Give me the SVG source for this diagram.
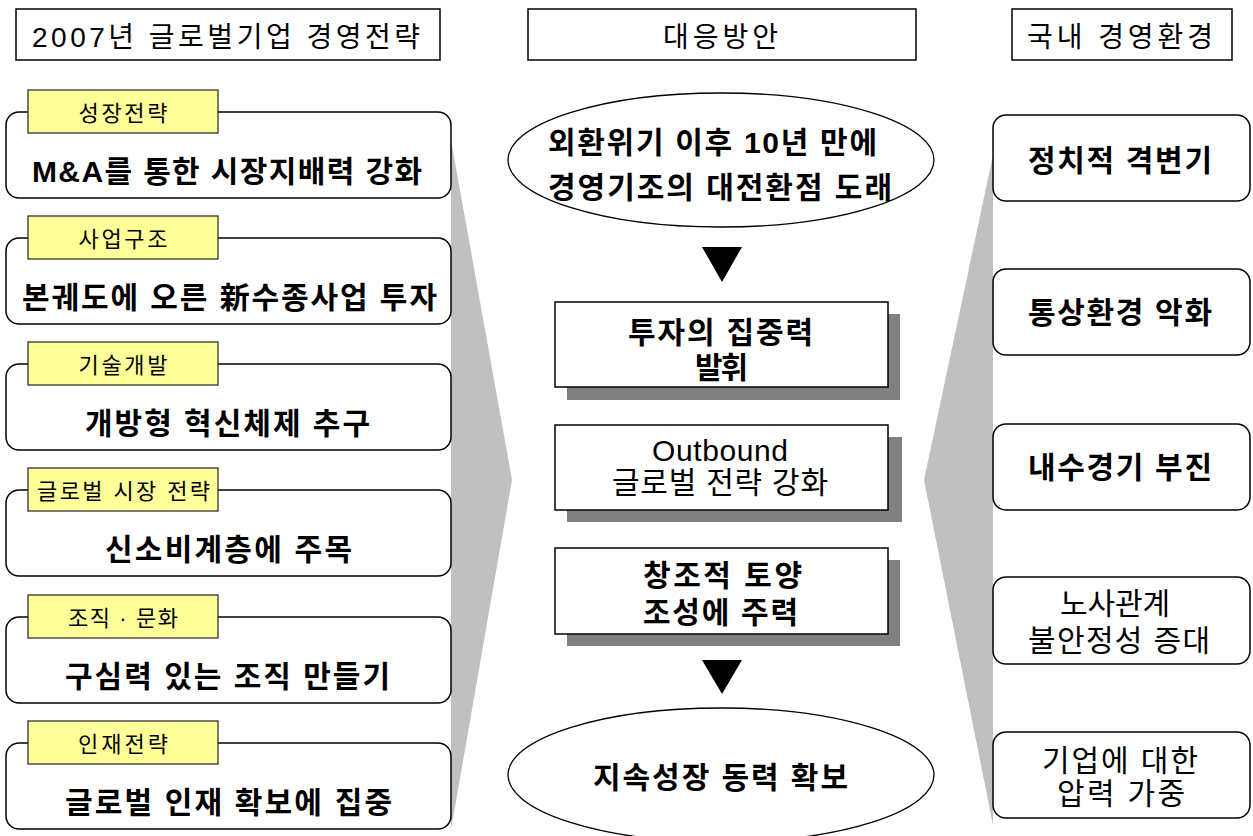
<svg xmlns="http://www.w3.org/2000/svg" width="1253" height="836" viewBox="0 0 1253 836">
<style>
text{font-family:"Liberation Sans","Noto Sans CJK KR",sans-serif;fill:#000;text-anchor:middle}
.h{font-size:28px}
.lb{font-size:22px}
.b{font-size:30px;font-weight:bold}
.r{font-size:30px}
.hdr{fill:#fff;stroke:#000;stroke-width:1.5}
.rb{fill:#fff;stroke:#000;stroke-width:1.5}
.tag{fill:#ffff99;stroke:#222;stroke-width:1.2}
.sq{fill:#fff;stroke:#000;stroke-width:1.5}
.sh{fill:#808080}
.wedge{fill:#c0c0c0}
.el{fill:#fff;stroke:#000;stroke-width:1.3}
</style>

<g id="connectors">
  <polygon class="wedge" points="451,140 512,480 451,830"/>
  <polygon class="wedge" points="993,155 924,480 993,825"/>
  <polygon points="702,247 742,247 722,282" fill="#000"/>
  <polygon points="702,660 742,660 722,694" fill="#000"/>
</g>

<g id="header-left"><rect class="hdr" x="16" y="9" width="424" height="51"/><text class="h" x="226" y="46.5" textLength="388">2007년 글로벌기업 경영전략</text></g>
<g id="header-center"><rect class="hdr" x="528" y="9" width="388" height="51"/><text class="h" x="720.5" y="46.5" textLength="115">대응방안</text></g>
<g id="header-right"><rect class="hdr" x="1012" y="9" width="220" height="51"/><text class="h" x="1120" y="46.5" textLength="186">국내 경영환경</text></g>

<g id="left1"><rect class="rb" x="6" y="112" width="445" height="86" rx="13"/><rect class="tag" x="28" y="90" width="190" height="43"/><text class="lb" x="123" y="121" textLength="89">성장전략</text><text class="b" x="227" y="182" textLength="390">M&amp;A를 통한 시장지배력 강화</text></g>
<g id="left2"><rect class="rb" x="6" y="238" width="445" height="86" rx="13"/><rect class="tag" x="28" y="216" width="190" height="43"/><text class="lb" x="123" y="247" textLength="89">사업구조</text><text class="b" x="229.5" y="308" textLength="415">본궤도에 오른 新수종사업 투자</text></g>
<g id="left3"><rect class="rb" x="6" y="364" width="445" height="86" rx="13"/><rect class="tag" x="28" y="342" width="190" height="43"/><text class="lb" x="123" y="373" textLength="89">기술개발</text><text class="b" x="227.5" y="434" textLength="285">개방형 혁신체제 추구</text></g>
<g id="left4"><rect class="rb" x="6" y="490" width="445" height="86" rx="13"/><rect class="tag" x="28" y="468" width="190" height="43"/><text class="lb" x="123.5" y="499" textLength="173">글로벌 시장 전략</text><text class="b" x="228.5" y="560" textLength="247">신소비계층에 주목</text></g>
<g id="left5"><rect class="rb" x="6" y="617" width="445" height="86" rx="13"/><rect class="tag" x="28" y="595" width="190" height="43"/><text class="lb" x="123" y="626" textLength="110">조직 · 문화</text><text class="b" x="227.5" y="687" textLength="325">구심력 있는 조직 만들기</text></g>
<g id="left6"><rect class="rb" x="6" y="743" width="445" height="86" rx="13"/><rect class="tag" x="28" y="721" width="190" height="43"/><text class="lb" x="123" y="752" textLength="90">인재전략</text><text class="b" x="228.5" y="813" textLength="327">글로벌 인재 확보에 집중</text></g>

<g id="ellipse-top"><ellipse class="el" cx="721" cy="160" rx="213" ry="67"/><text class="b" x="712.5" y="153" textLength="329">외환위기 이후 10년 만에</text><text class="b" x="720" y="198" textLength="344">경영기조의 대전환점 도래</text></g>

<g id="center1"><rect class="sh" x="567" y="314" width="333" height="86"/><rect class="sq" x="555" y="302" width="333" height="85"/><text class="b" x="720.5" y="343" textLength="185">투자의 집중력</text><text class="b" x="721.5" y="378" textLength="53">발휘</text></g>
<g id="center2"><rect class="sh" x="567" y="437" width="335" height="85"/><rect class="sq" x="555" y="425" width="333" height="85"/><text class="r" x="720" y="461" textLength="136">Outbound</text><text class="r" x="720" y="493" textLength="216">글로벌 전략 강화</text></g>
<g id="center3"><rect class="sh" x="567" y="560" width="333" height="86"/><rect class="sq" x="555" y="548" width="333" height="86"/><text class="b" x="722.5" y="586" textLength="159">창조적 토양</text><text class="b" x="720.5" y="623" textLength="155">조성에 주력</text></g>

<g id="ellipse-bottom"><ellipse class="el" cx="721" cy="775" rx="213" ry="67"/><text class="b" x="720.5" y="788" textLength="255">지속성장 동력 확보</text></g>

<g id="right1"><rect class="rb" x="993" y="115" width="257" height="86" rx="13"/><text class="b" x="1120" y="171" textLength="184">정치적 격변기</text></g>
<g id="right2"><rect class="rb" x="993" y="269" width="257" height="86" rx="13"/><text class="b" x="1120" y="323" textLength="184">통상환경 악화</text></g>
<g id="right3"><rect class="rb" x="993" y="424" width="257" height="86" rx="13"/><text class="b" x="1120" y="478" textLength="184">내수경기 부진</text></g>
<g id="right4"><rect class="rb" x="993" y="577" width="257" height="87" rx="13"/><text class="r" x="1115" y="614" textLength="110">노사관계</text><text class="r" x="1119" y="651" textLength="182">불안정성 증대</text></g>
<g id="right5"><rect class="rb" x="993" y="732" width="257" height="86" rx="13"/><text class="r" x="1120" y="771" textLength="156">기업에 대한</text><text class="r" x="1121" y="804" textLength="128">압력 가중</text></g>
</svg>
